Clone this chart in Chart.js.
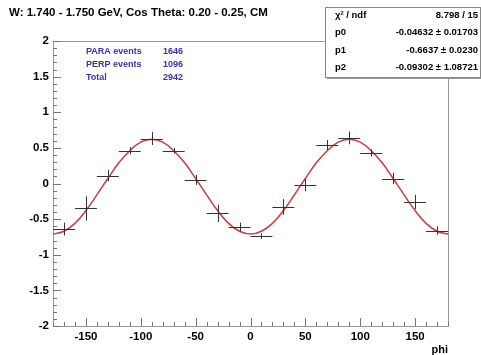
<!DOCTYPE html>
<html>
<head>
<meta charset="utf-8">
<script src="https://cdn.jsdelivr.net/npm/chart.js@4.4.0/dist/chart.umd.min.js"></script>
<style>
  body { margin: 0; background: #fff; }
  canvas { display: block; }
</style>
</head>
<body>
<canvas id="myChart" width="481" height="355"></canvas>
<script>
// measured bins (phi centre, asymmetry, error)
const phiBins = [-170, -150, -130, -110, -90, -70, -50, -30, -10, 10, 30, 50, 70, 90, 110, 130, 150, 170];
const asymValues = [-0.64, -0.35, 0.11, 0.46, 0.63, 0.46, 0.05, -0.42, -0.61, -0.74, -0.33, -0.02, 0.54, 0.64, 0.43, 0.07, -0.26, -0.66];
const asymErrors = [0.09, 0.17, 0.08, 0.05, 0.09, 0.04, 0.07, 0.12, 0.06, 0.04, 0.11, 0.09, 0.07, 0.09, 0.05, 0.08, 0.10, 0.06];
const binHalfWidth = 10;

// fit curve every 10 deg
const fitPhi = [-180, -170, -160, -150, -140, -130, -120, -110, -100, -90, -80, -70, -60, -50, -40, -30, -20, -10, 0,
  10, 20, 30, 40, 50, 60, 70, 80, 90, 100, 110, 120, 130, 140, 150, 160, 170, 180];
const fitValues = [-0.71, -0.67, -0.56, -0.38, -0.16, 0.07, 0.29, 0.46, 0.58, 0.62, 0.58, 0.46, 0.29, 0.07, -0.16, -0.38, -0.56, -0.67, -0.71,
  -0.67, -0.56, -0.38, -0.16, 0.07, 0.29, 0.46, 0.58, 0.62, 0.58, 0.46, 0.29, 0.07, -0.16, -0.38, -0.56, -0.67, -0.71];

const xTicks = [-150, -100, -50, 0, 50, 100, 150];
const yTicks = [-2, -1.5, -1, -0.5, 0, 0.5, 1, 1.5, 2];

const titleText = 'W: 1.740 - 1.750 GeV, Cos Theta: 0.20 - 0.25, CM';
const countLabels = ['PARA events', 'PERP events', 'Total'];
const countValues = ['1646', '1096', '2942'];
const statNames = ['\u03c7\u00b2 / ndf', 'p0', 'p1', 'p2'];
const statValues = ['8.798 / 15', '-0.04632 \u00b1 0.01703', '-0.6637 \u00b1 0.0230', '-0.09302 \u00b1 1.08721'];

window.onload = () => {
  const family = '"Liberation Sans", Arial, sans-serif';

  const rootDecor = {
    id: 'rootDecor',
    afterDatasetsDraw(chart) {
      const ctx = chart.ctx;
      const xs = chart.scales.x;
      const ys = chart.scales.y;

      // error bars
      ctx.save();
      ctx.strokeStyle = '#333';
      ctx.lineWidth = 1;
      phiBins.forEach((phi, i) => {
        const px = xs.getPixelForValue(phi);
        const py = ys.getPixelForValue(asymValues[i]);
        ctx.beginPath();
        ctx.moveTo(xs.getPixelForValue(phi - binHalfWidth), Math.round(py) + 0.5);
        ctx.lineTo(xs.getPixelForValue(phi + binHalfWidth), Math.round(py) + 0.5);
        ctx.moveTo(Math.round(px) + 0.5, ys.getPixelForValue(asymValues[i] + asymErrors[i]));
        ctx.lineTo(Math.round(px) + 0.5, ys.getPixelForValue(asymValues[i] - asymErrors[i]));
        ctx.stroke();
      });
      ctx.restore();
    },
    afterDraw(chart) {
      const ctx = chart.ctx;
      const xs = chart.scales.x;
      const ys = chart.scales.y;
      const area = chart.chartArea;

      ctx.save();
      // frame top / right
      ctx.strokeStyle = '#999';
      ctx.lineWidth = 1;
      ctx.beginPath();
      ctx.moveTo(area.left, area.top + 0.5);
      ctx.lineTo(area.right + 0.5, area.top + 0.5);
      ctx.lineTo(area.right + 0.5, area.bottom);
      ctx.stroke();

      // inward ticks
      ctx.strokeStyle = '#777';
      ctx.beginPath();
      for (let v = -180; v <= 180; v += 10) {
        const px = Math.round(xs.getPixelForValue(v)) + 0.5;
        const len = v % 50 === 0 ? 8 : 4;
        ctx.moveTo(px, area.bottom);
        ctx.lineTo(px, area.bottom - len);
      }
      for (let k = -20; k <= 20; k++) {
        const py = Math.round(ys.getPixelForValue(k / 10)) + 0.5;
        const len = k % 5 === 0 ? 8 : 4;
        ctx.moveTo(area.left, py);
        ctx.lineTo(area.left + len, py);
      }
      ctx.stroke();

      // title
      ctx.fillStyle = '#000';
      ctx.font = 'bold 11.5px ' + family;
      ctx.textBaseline = 'middle';
      ctx.textAlign = 'left';
      ctx.fillText(titleText, 9, 13);

      // axis title
      ctx.font = 'bold 11px ' + family;
      ctx.textAlign = 'right';
      ctx.fillText('phi', area.right, 350);

      // event counts
      ctx.fillStyle = '#3333bb';
      ctx.font = 'bold 9px ' + family;
      ctx.textAlign = 'left';
      countLabels.forEach((lab, i) => {
        ctx.fillText(lab, 86, 52 + i * 13);
        ctx.fillText(countValues[i], 163, 52 + i * 13);
      });

      // stats box
      const bx = 325, by = 7, bw = 155, bh = 70;
      ctx.fillStyle = '#999';
      ctx.fillRect(bx + 2, by + bh, bw, 2);
      ctx.fillStyle = '#fff';
      ctx.fillRect(bx, by, bw, bh);
      ctx.strokeStyle = '#888';
      ctx.strokeRect(bx + 0.5, by + 0.5, bw, bh);
      ctx.fillStyle = '#000';
      ctx.font = 'bold 9.5px ' + family;
      statNames.forEach((name, i) => {
        const ty = 15 + i * 17.5;
        ctx.textAlign = 'left';
        ctx.fillText(name, 335, ty);
        ctx.textAlign = 'right';
        ctx.fillText(statValues[i], 478, ty);
      });
      ctx.restore();
    }
  };

  const tickFont = { family, size: 11.5, weight: 'bold' };

  const ctx = document.querySelector('#myChart').getContext('2d');
  const chart = new Chart(ctx, {
    type: 'line',
    data: {
      datasets: [
        {
          label: 'fit',
          data: fitPhi.map((p, i) => ({ x: p, y: fitValues[i] })),
          borderColor: '#cc3a3a',
          borderWidth: 1.5,
          pointRadius: 0,
          tension: 0.4,
          fill: false
        },
        {
          label: 'data',
          data: phiBins.map((p, i) => ({ x: p, y: asymValues[i] })),
          showLine: false,
          pointRadius: 0
        }
      ]
    },
    options: {
      responsive: false,
      animation: false,
      devicePixelRatio: 1,
      layout: { padding: { left: 0, top: 41, right: 33, bottom: 0 } },
      plugins: {
        legend: { display: false },
        tooltip: { enabled: false }
      },
      scales: {
        x: {
          type: 'linear',
          min: -180,
          max: 180,
          afterBuildTicks: scale => { scale.ticks = xTicks.map(v => ({ value: v })); },
          afterFit: scale => { scale.height = 29; },
          grid: { display: false, drawTicks: false },
          border: { display: true, color: '#999' },
          ticks: { color: '#000', font: tickFont, padding: 4, maxRotation: 0 }
        },
        y: {
          type: 'linear',
          min: -2,
          max: 2,
          afterBuildTicks: scale => { scale.ticks = yTicks.map(v => ({ value: v })); },
          afterFit: scale => { scale.width = 53; },
          grid: { display: false, drawTicks: false },
          border: { display: true, color: '#999' },
          ticks: { color: '#000', font: tickFont, padding: 4, callback: v => String(v) }
        }
      }
    },
    plugins: [rootDecor]
  });
};
</script>
</body>
</html>
